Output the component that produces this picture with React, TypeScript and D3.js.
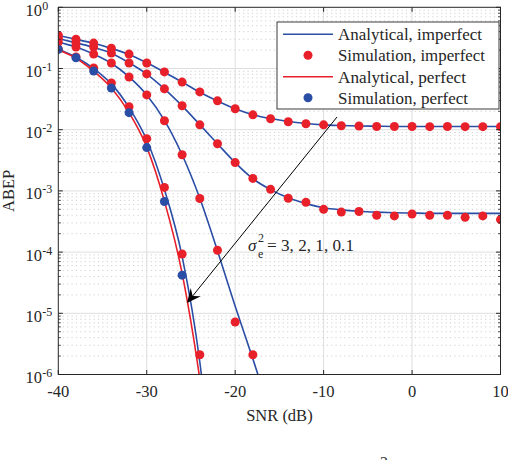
import React from "react";
import * as d3 from "d3";

// ---------- data ----------
const snr = [-40, -38, -36, -34, -32, -30, -28, -26, -24, -22, -20, -18, -16, -14, -12, -10, -8, -6, -4, -2, 0, 2, 4, 6, 8, 10];

// sigma_e^2 = 3
const anaS3 = [0.345, 0.3, 0.258, 0.213, 0.17, 0.124, 0.087, 0.06, 0.041, 0.0295, 0.022, 0.0176, 0.0152, 0.0136, 0.0126, 0.012, 0.0117, 0.0115, 0.0114, 0.0113, 0.0113, 0.0113, 0.0113, 0.0113, 0.0113, 0.0113];
const simS3 = [0.35, 0.3, 0.26, 0.215, 0.172, 0.123, 0.088, 0.06, 0.0415, 0.0296, 0.022, 0.0175, 0.0151, 0.0135, 0.0125, 0.012, 0.0116, 0.0115, 0.0113, 0.0113, 0.0113, 0.0112, 0.0113, 0.0112, 0.0112, 0.0112];
// sigma_e^2 = 2
const anaS2 = [0.31, 0.262, 0.222, 0.178, 0.124, 0.081, 0.0465, 0.0245, 0.0121, 0.0059, 0.0029, 0.00158, 0.00105, 0.00077, 0.00062, 0.00053, 0.00049, 0.000465, 0.00045, 0.00044, 0.000435, 0.00043, 0.00043, 0.00043, 0.00043, 0.00043];
const simS2 = [0.313, 0.26, 0.224, 0.179, 0.123, 0.0816, 0.0465, 0.0246, 0.012, 0.0059, 0.0029, 0.0016, 0.00106, 0.00076, 0.00065, 0.0005, 0.00045, 0.00046, 0.0004, 0.00039, 0.00042, 0.0004, 0.0004, 0.00037, 0.00039, 0.00034];
// sigma_e^2 = 1
const anaS1 = [0.27, 0.225, 0.172, 0.122, 0.073, 0.037, 0.0142, 0.0039, 0.00076, 0.000105, 1.3e-5, 1.8e-6, 2.3e-7];
const simS1 = [0.27, 0.224, 0.172, 0.123, 0.0727, 0.037, 0.014, 0.0039, 0.00075, 0.000107, 7.2e-6, 2.1e-6];
// sigma_e^2 = 0.1
const anaS01 = [0.207, 0.153, 0.1, 0.056, 0.023, 0.0068, 0.00105, 8.5e-5, 1.6e-6, 3e-9];
const simS01 = [0.207, 0.154, 0.102, 0.058, 0.0237, 0.00714, 0.00114, 9.3e-5, 2.1e-6];
// perfect CSI
const anaPerfect = [0.2, 0.147, 0.09, 0.048, 0.019, 0.0052, 0.00068, 4.5e-5, 8.5e-7, 5e-9];
const simPerfect = [0.205, 0.15, 0.091, 0.048, 0.019, 0.0051, 0.00067, 4.2e-5];

const xTicks = [-40, -30, -20, -10, 0, 10];
const yExponents = [0, -1, -2, -3, -4, -5, -6];
const legendLabels = ["Analytical, imperfect", "Simulation, imperfect", "Analytical, perfect", "Simulation, perfect"];
const xLabel = "SNR (dB)";
const yLabel = "ABEP";
const annotation = "= 3, 2, 1, 0.1";

// ---------- style ----------
const BLUE = "#2a4ea6";
const RED = "#e8202a";
const AXIS = "#262626";
const FONT = "\"Times New Roman\", Times, \"Liberation Serif\", serif";

export default function App() {
  const W = 508, H = 460;
  const L = 58.3, R = 500.5, T = 7.3, B = 374.5;
  const x = d3.scaleLinear().domain([-40, 10]).range([L, R]);
  const y = d3.scaleLog().domain([1e-6, 1]).range([B, T]);

  const line = d3
    .line<[number, number]>()
    .x((d) => x(d[0]))
    .y((d) => y(d[1]))
    .curve(d3.curveMonotoneX);
  const pts = (vals: number[]) => vals.map((v, i) => [snr[i], v] as [number, number]);

  const minorVals: number[] = [];
  for (let e = -6; e < 0; e++) for (let k = 2; k <= 9; k++) minorVals.push(k * Math.pow(10, e));

  const ana = [anaS3, anaS2, anaS1, anaS01];
  const sims = [simS3, simS2, simS1, simS01];

  // arrow geometry
  const start: [number, number] = [337, 117];
  const tip: [number, number] = [187, 303];
  const dx = tip[0] - start[0], dy = tip[1] - start[1];
  const len = Math.hypot(dx, dy);
  const ux = dx / len, uy = dy / len;
  const nx = -uy, ny = ux;
  const hl = 14, hw = 6.5, notch = 9;
  const head = [
    [tip[0], tip[1]],
    [tip[0] - hl * ux + hw * nx, tip[1] - hl * uy + hw * ny],
    [tip[0] - notch * ux, tip[1] - notch * uy],
    [tip[0] - hl * ux - hw * nx, tip[1] - hl * uy - hw * ny],
  ]
    .map((p) => p.join(","))
    .join(" ");

  const legendRowsY = [34.3, 55.3, 76.7, 97.7];
  const legendWidths = [144, 147, 128, 130];
  const tStyle = { fontFamily: FONT };

  return (
    <svg
      width={W}
      height={H}
      style={{ position: "absolute", left: 0, top: 0, background: "#fff", fontFamily: FONT }}
    >
      <defs>
        <clipPath id="plotClip">
          <rect x={L} y={T} width={R - L} height={B - T} />
        </clipPath>
      </defs>
      <rect x={0} y={0} width={W} height={H} fill="#fff" />

      {/* minor grid */}
      {minorVals.map((v, i) => (
        <line key={"mg" + i} x1={L} x2={R} y1={y(v)} y2={y(v)} stroke="#c4c4c4" strokeWidth={0.8} strokeDasharray="1.2 3.2" />
      ))}
      {/* major grid */}
      {yExponents.slice(1, -1).map((e) => (
        <line key={"gy" + e} x1={L} x2={R} y1={y(Math.pow(10, e))} y2={y(Math.pow(10, e))} stroke="#dedede" strokeWidth={1} />
      ))}
      {xTicks.slice(1, -1).map((t) => (
        <line key={"gx" + t} x1={x(t)} x2={x(t)} y1={T} y2={B} stroke="#dedede" strokeWidth={1} />
      ))}

      {/* curves */}
      <g clipPath="url(#plotClip)">
        {ana.map((a, i) => (
          <path key={"a" + i} d={line(pts(a)) || ""} fill="none" stroke={BLUE} strokeWidth={1.6} />
        ))}
        <path d={line(pts(anaPerfect)) || ""} fill="none" stroke={RED} strokeWidth={1.6} />
        {sims.map((s, i) =>
          s.map((v, j) => <circle key={"s" + i + "_" + j} cx={x(snr[j])} cy={y(v)} r={4.5} fill={RED} />)
        )}
        {simPerfect.map((v, j) => (
          <circle key={"p" + j} cx={x(snr[j])} cy={y(v)} r={4.5} fill={BLUE} />
        ))}
      </g>

      {/* axes box */}
      <rect x={L} y={T} width={R - L} height={B - T} fill="none" stroke={AXIS} strokeWidth={1} />
      {/* x ticks */}
      {xTicks.map((t) => (
        <g key={"xt" + t}>
          <line x1={x(t)} x2={x(t)} y1={B} y2={B - 4.5} stroke={AXIS} />
          <line x1={x(t)} x2={x(t)} y1={T} y2={T + 4.5} stroke={AXIS} />
          <text x={x(t)} y={397} textAnchor="middle" fontSize={16.5} fill={AXIS} style={tStyle}>
            {t}
          </text>
        </g>
      ))}
      {/* y ticks */}
      {yExponents.map((e) => {
        const yy = y(Math.pow(10, e));
        return (
          <g key={"yt" + e}>
            <line x1={L} x2={L + 4.5} y1={yy} y2={yy} stroke={AXIS} />
            <line x1={R} x2={R - 4.5} y1={yy} y2={yy} stroke={AXIS} />
            <text x={42} y={yy + 8.5} textAnchor="end" fontSize={16.5} fill={AXIS} style={tStyle}>
              10
            </text>
            <text x={42.3} y={yy + 2.5} fontSize={12} fill={AXIS} style={tStyle}>
              {e === 0 ? "0" : "-" + Math.abs(e)}
            </text>
          </g>
        );
      })}
      {minorVals.map((v, i) => (
        <g key={"mt" + i}>
          <line x1={L} x2={L + 2.5} y1={y(v)} y2={y(v)} stroke={AXIS} strokeWidth={0.8} />
          <line x1={R} x2={R - 2.5} y1={y(v)} y2={y(v)} stroke={AXIS} strokeWidth={0.8} />
        </g>
      ))}

      {/* axis labels */}
      <text x={(L + R) / 2} y={421} textAnchor="middle" fontSize={16.5} fill={AXIS} style={tStyle}>
        {xLabel}
      </text>
      <text transform={`translate(14,${(T + B) / 2}) rotate(-90)`} textAnchor="middle" fontSize={16.5} fill={AXIS} style={tStyle}>
        {yLabel}
      </text>

      {/* legend */}
      <rect x={277} y={22} width={222} height={87} fill="#fff" stroke={AXIS} strokeWidth={0.9} />
      <line x1={283} x2={333} y1={legendRowsY[0]} y2={legendRowsY[0]} stroke={BLUE} strokeWidth={1.6} />
      <circle cx={308} cy={legendRowsY[1]} r={4.5} fill={RED} />
      <line x1={283} x2={333} y1={legendRowsY[2]} y2={legendRowsY[2]} stroke={RED} strokeWidth={1.6} />
      <circle cx={308} cy={legendRowsY[3]} r={4.5} fill={BLUE} />
      {legendLabels.map((lab, i) => (
        <text
          key={lab}
          x={338}
          y={legendRowsY[i] + 6}
          fontSize={16.5}
          fill={AXIS}
          style={tStyle}
          textLength={legendWidths[i]}
          lengthAdjust="spacingAndGlyphs"
        >
          {lab}
        </text>
      ))}

      {/* annotation arrow */}
      <line x1={start[0]} y1={start[1]} x2={tip[0] - notch * ux} y2={tip[1] - notch * uy} stroke="#000" strokeWidth={1} />
      <polygon points={head} fill="#000" />
      <text x={248} y={251} fontSize={17} fill={AXIS} fontStyle="italic" style={tStyle}>
        σ
      </text>
      <text x={258} y={242} fontSize={12} fill={AXIS} style={tStyle}>
        2
      </text>
      <text x={258} y={258} fontSize={12} fill={AXIS} style={tStyle}>
        e
      </text>
      <text x={267} y={251} fontSize={16.5} fill={AXIS} style={tStyle} textLength={87} lengthAdjust="spacingAndGlyphs">
        {annotation}
      </text>

      {/* clipped caption fragment */}
      <text x={384} y={468} textAnchor="middle" fontSize={16} fill="#333" style={tStyle}>
        2
      </text>
    </svg>
  );
}
